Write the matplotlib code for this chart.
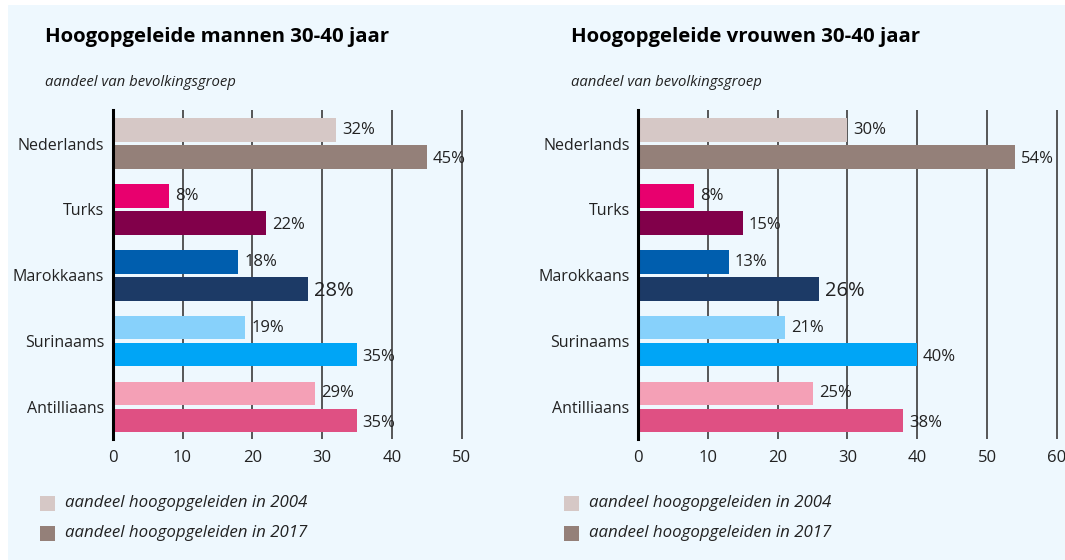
import matplotlib
matplotlib.use("Agg")
import matplotlib.pyplot as plt
from matplotlib.patches import Rectangle

categories = ["Nederlands", "Turks", "Marokkaans", "Surinaams", "Antilliaans"]
men_2004 = [32, 8, 18, 19, 29]
men_2017 = [45, 22, 28, 35, 35]
women_2004 = [30, 8, 13, 21, 25]
women_2017 = [54, 15, 26, 40, 38]
men_ticks = [0, 10, 20, 30, 40, 50]
women_ticks = [0, 10, 20, 30, 40, 50, 60]
titles = ["Hoogopgeleide mannen 30-40 jaar", "Hoogopgeleide vrouwen 30-40 jaar"]
subtitle = "aandeel van bevolkingsgroep"
legend_labels = ["aandeel hoogopgeleiden in 2004", "aandeel hoogopgeleiden in 2017"]

colors_2004 = ["#d6c8c6", "#e8006e", "#005eae", "#87d1fb", "#f4a0b6"]
colors_2017 = ["#948079", "#81004a", "#1c3a66", "#00a5f6", "#df5083"]

FONT = ["Open Sans", "DejaVu Sans"]
plt.rcParams["font.family"] = FONT

W, H = 1065, 560
fig = plt.figure(figsize=(W / 100, H / 100), dpi=100, facecolor="white")
bg = Rectangle((8 / W, 0), 1 - 8 / W, 1 - 5 / H, transform=fig.transFigure,
               facecolor="#eef8fe", edgecolor="none", zorder=-10)
fig.add_artist(bg)

def px(x, y):
    return x / W, 1 - y / H

PPU = 6.98
panels = [
    dict(left=112.7, xmax=52, ticks=men_ticks, v04=men_2004, v17=men_2017,
         title=titles[0], tx=45, lx=40),
    dict(left=638, xmax=60.4, ticks=women_ticks, v04=women_2004, v17=women_2017,
         title=titles[1], tx=571, lx=564),
]

top_px, bot_px = 110, 439
bh = 0.357
off = 0.205
for p in panels:
    ax = fig.add_axes([p["left"] / W, 1 - bot_px / H, p["xmax"] * PPU / W, (bot_px - top_px) / H])
    ax.set_facecolor("none")
    ax.set_zorder(1)
    ypos = list(range(len(categories)))
    ax.barh([y - off for y in ypos], p["v04"], height=bh, color=colors_2004, zorder=3)
    ax.barh([y + off for y in ypos], p["v17"], height=bh, color=colors_2017, zorder=3)
    for y, v in zip(ypos, p["v04"]):
        ax.annotate(f"{v}%", (v, y - off), xytext=(4.5, 0), textcoords="offset points",
                    va="center", ha="left", fontsize=12, color="#222222", zorder=4)
    for i, (y, v) in enumerate(zip(ypos, p["v17"])):
        fs = 14.5 if categories[i] == "Marokkaans" else 12
        ax.annotate(f"{v}%", (v, y + off), xytext=(4, -1.5), textcoords="offset points",
                    va="center", ha="left", fontsize=fs, color="#222222", zorder=4)
    ax.set_ylim(len(categories) - 1 + 0.486, -0.51)
    ax.set_xlim(0, p["xmax"])
    ax.set_yticks(ypos)
    ax.set_yticklabels(categories, fontsize=11.5, color="#222222")
    ax.set_xticks(p["ticks"])
    ax.set_xticklabels([str(t) for t in p["ticks"]], fontsize=12, color="#222222")
    ax.tick_params(axis="both", length=0)
    ax.tick_params(axis="x", pad=8)
    ax.tick_params(axis="y", pad=6)
    for s in ["top", "right", "bottom"]:
        ax.spines[s].set_visible(False)
    ax.spines["left"].set_linewidth(2.2)
    ax.spines["left"].set_color("black")
    ax.spines["left"].set_zorder(5)
    for t in p["ticks"][1:]:
        ax.axvline(t, color="#4a4a4a", lw=1.3, zorder=1)
    # titles
    fig.text(*px(p["tx"], 37), p["title"], fontsize=14.7, fontweight="bold", color="black",
             ha="left", va="center")
    fig.text(*px(p["tx"], 82), subtitle, fontsize=10.7, style="italic", color="#222222",
             ha="left", va="center")
    # legend
    for j, (lab, c) in enumerate(zip(legend_labels, [colors_2004[0], colors_2017[0]])):
        yc = 503 + 30 * j
        fig.add_artist(Rectangle(px(p["lx"], yc + 7.5), 15 / W, 15 / H, transform=fig.transFigure,
                                 facecolor=c, edgecolor="none", zorder=2))
        fig.text(*px(p["lx"] + 25, yc), lab, fontsize=12.2, style="italic", color="#222222",
                 ha="left", va="center")

fig.savefig("out.png", dpi=100, facecolor=fig.get_facecolor())
